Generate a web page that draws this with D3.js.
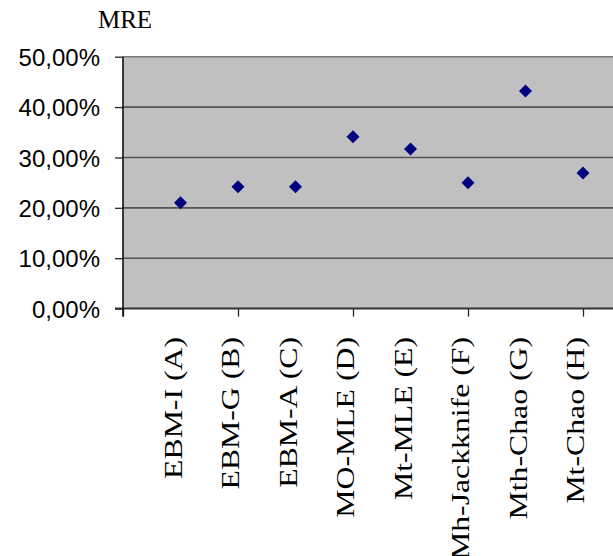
<!DOCTYPE html>
<html>
<head>
<meta charset="utf-8">
<script src="https://cdn.jsdelivr.net/npm/d3@7"></script>
<style>
html,body{margin:0;padding:0;background:#fff;}
svg{display:block;}
</style>
</head>
<body>
<svg id="chart" width="613" height="556"></svg>
<script>
const categories = ["EBM-I (A)", "EBM-G (B)", "EBM-A (C)", "MO-MLE (D)", "Mt-MLE (E)", "Mh-Jackknife (F)", "Mth-Chao (G)", "Mt-Chao (H)"];
const mreValues = [0.210, 0.242, 0.242, 0.341, 0.317, 0.250, 0.432, 0.269];
const yTicks = [0, 0.1, 0.2, 0.3, 0.4, 0.5];
const xTicks = [0, 2, 4, 6, 8];
const yTitle = "MRE";

(function () {
const svg = d3.select("#chart");
const pL = 123, pT = 56.7, pB = 308.6, pR = 640;

const x = d3.scaleLinear().domain([0, 9]).range([pL, pL + 57.5 * 9]);
const y = d3.scaleLinear().domain([0, 0.5]).range([pB, pT]);

// plot area
svg.append("rect")
  .attr("x", pL).attr("y", pT)
  .attr("width", pR - pL).attr("height", pB - pT)
  .attr("fill", "#c0c0c0");

// gridlines
svg.append("g").selectAll("line").data(yTicks.filter(d => d > 0)).join("line")
  .attr("x1", pL).attr("x2", pR)
  .attr("y1", d => y(d)).attr("y2", d => y(d))
  .attr("stroke", d => d === 0.5 ? "#7a7a7a" : "#555")
  .attr("stroke-width", 1.6);

// y axis
const fmt = d => d3.format(".2f")(d * 100).replace(".", ",") + "%";
const yAxis = d3.axisLeft(y).tickValues(yTicks).tickFormat(fmt).tickSize(8).tickPadding(15);
const gy = svg.append("g").attr("transform", `translate(${pL},0)`).call(yAxis);
gy.select(".domain").remove();
gy.selectAll(".tick line").attr("stroke", "#333").attr("stroke-width", 1.4);
gy.selectAll(".tick text")
  .attr("font-family", "'Liberation Sans', Arial, sans-serif")
  .attr("font-size", 24).attr("fill", "#000").attr("dy", "0.36em");

// x axis ticks
const xAxis = d3.axisBottom(x).tickValues(xTicks).tickFormat("").tickSize(8);
const gx = svg.append("g").attr("transform", `translate(0,${pB})`).call(xAxis);
gx.select(".domain").remove();
gx.selectAll(".tick line").attr("stroke", "#222").attr("stroke-width", 1.3);

// axis lines
svg.append("line").attr("x1", pL - 8).attr("x2", pR).attr("y1", pB).attr("y2", pB)
  .attr("stroke", "#333").attr("stroke-width", 2);
svg.append("line").attr("x1", pL).attr("x2", pL).attr("y1", pT).attr("y2", pB + 8)
  .attr("stroke", "#111").attr("stroke-width", 1.6);

// category labels
svg.append("g").selectAll("text").data(categories).join("text")
  .attr("transform", (d, i) => `translate(${x(i + 1) + 1},337) rotate(-90) scale(1.27,1)`)
  .attr("text-anchor", "end")
  .attr("font-family", "'Liberation Serif', 'Times New Roman', serif")
  .attr("font-size", 25).attr("fill", "#000")
  .text(d => d);

// markers
svg.append("g").selectAll("path").data(mreValues).join("path")
  .attr("d", d3.symbol(d3.symbolSquare, 85))
  .attr("transform", (d, i) => `translate(${x(i + 1)},${y(d)}) rotate(45)`)
  .attr("fill", "#000080");

// title
svg.append("text").attr("x", 125).attr("y", 28.3).attr("text-anchor", "middle")
  .attr("font-family", "'Liberation Serif', 'Times New Roman', serif")
  .attr("font-size", 25).attr("fill", "#000").text(yTitle);
})();
</script>
</body>
</html>
